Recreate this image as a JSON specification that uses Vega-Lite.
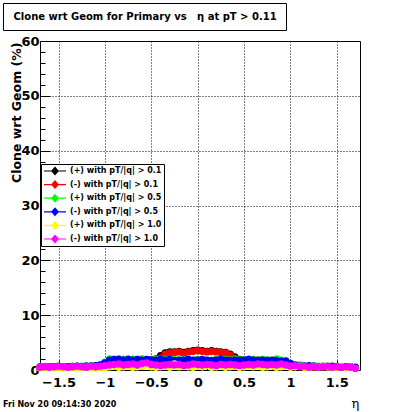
{
  "$schema": "https://vega.github.io/schema/vega-lite/v6.json",
  "width": 320,
  "height": 329,
  "autosize": {"type": "none"},
  "padding": {"left": 40, "top": 41, "right": 40, "bottom": 42},
  "background": "white",
  "title": {"text": "Fri Nov 20 09:14:30 2020", "orient": "bottom", "anchor": "start", "frame": "group", "dx": -37, "offset": -9, "baseline": "top", "font": "DejaVu Sans", "fontSize": 8, "fontWeight": "bold", "color": "black"},
  "config": {
    "view": {"stroke": "black", "strokeWidth": 1, "fill": "white"},
    "axis": {"domain": false, "tickColor": "black", "tickWidth": 1, "labelColor": "black", "titleColor": "black", "gridColor": "black", "gridDash": [1, 2], "gridWidth": 1, "labelFont": "DejaVu Sans", "labelFontWeight": "bold", "labelFontSize": 13, "labelOverlap": false, "labelFlush": false}
  },
  "data": {"values": [
    {"eta": -1.70, "s1": 0.5, "s2": 0.5, "s3": 0.6, "s4": 0.5, "s5": 0.4, "s6": 0.5},
    {"eta": -1.65, "s1": 0.5, "s2": 0.5, "s3": 0.5, "s4": 0.6, "s5": 0.5, "s6": 0.6},
    {"eta": -1.60, "s1": 0.6, "s2": 0.5, "s3": 0.6, "s4": 0.5, "s5": 0.3, "s6": 0.5},
    {"eta": -1.55, "s1": 0.5, "s2": 0.6, "s3": 0.5, "s4": 0.6, "s5": 0.4, "s6": 0.6},
    {"eta": -1.50, "s1": 0.6, "s2": 0.5, "s3": 0.7, "s4": 0.6, "s5": 0.5, "s6": 0.7},
    {"eta": -1.45, "s1": 0.5, "s2": 0.5, "s3": 0.6, "s4": 0.5, "s5": 0.3, "s6": 0.6},
    {"eta": -1.40, "s1": 0.6, "s2": 0.6, "s3": 0.6, "s4": 0.6, "s5": 0.4, "s6": 0.5},
    {"eta": -1.35, "s1": 0.6, "s2": 0.5, "s3": 0.7, "s4": 0.6, "s5": 0.5, "s6": 0.6},
    {"eta": -1.30, "s1": 0.5, "s2": 0.6, "s3": 0.6, "s4": 0.7, "s5": 0.3, "s6": 0.7},
    {"eta": -1.25, "s1": 0.6, "s2": 0.6, "s3": 0.7, "s4": 0.6, "s5": 0.4, "s6": 0.6},
    {"eta": -1.20, "s1": 0.7, "s2": 0.6, "s3": 0.7, "s4": 0.7, "s5": 0.5, "s6": 0.5},
    {"eta": -1.15, "s1": 0.6, "s2": 0.7, "s3": 0.8, "s4": 0.7, "s5": 0.4, "s6": 0.7},
    {"eta": -1.10, "s1": 0.7, "s2": 0.7, "s3": 0.8, "s4": 0.8, "s5": 0.3, "s6": 0.6},
    {"eta": -1.05, "s1": 0.8, "s2": 0.8, "s3": 0.9, "s4": 0.9, "s5": 0.5, "s6": 0.7},
    {"eta": -1.00, "s1": 1.2, "s2": 1.2, "s3": 1.4, "s4": 1.3, "s5": 0.4, "s6": 0.8},
    {"eta": -0.95, "s1": 1.8, "s2": 1.7, "s3": 2.0, "s4": 1.8, "s5": 0.6, "s6": 0.9},
    {"eta": -0.90, "s1": 1.8, "s2": 1.8, "s3": 1.9, "s4": 1.9, "s5": 0.7, "s6": 1.0},
    {"eta": -0.85, "s1": 1.9, "s2": 1.8, "s3": 2.0, "s4": 1.9, "s5": 0.5, "s6": 1.1},
    {"eta": -0.80, "s1": 1.8, "s2": 1.9, "s3": 1.9, "s4": 1.8, "s5": 0.6, "s6": 0.9},
    {"eta": -0.75, "s1": 1.8, "s2": 1.8, "s3": 2.0, "s4": 1.9, "s5": 0.7, "s6": 1.0},
    {"eta": -0.70, "s1": 1.9, "s2": 1.8, "s3": 1.9, "s4": 1.8, "s5": 0.5, "s6": 1.1},
    {"eta": -0.65, "s1": 1.8, "s2": 1.9, "s3": 1.8, "s4": 1.9, "s5": 0.6, "s6": 0.9},
    {"eta": -0.60, "s1": 1.9, "s2": 1.8, "s3": 2.0, "s4": 1.8, "s5": 0.7, "s6": 1.2},
    {"eta": -0.55, "s1": 1.8, "s2": 1.8, "s3": 1.9, "s4": 1.9, "s5": 0.9, "s6": 1.3},
    {"eta": -0.50, "s1": 1.8, "s2": 1.9, "s3": 1.8, "s4": 1.8, "s5": 0.6, "s6": 1.0},
    {"eta": -0.45, "s1": 2.0, "s2": 1.9, "s3": 1.9, "s4": 1.8, "s5": 0.5, "s6": 0.9},
    {"eta": -0.40, "s1": 2.6, "s2": 2.2, "s3": 1.8, "s4": 1.9, "s5": 0.6, "s6": 0.8},
    {"eta": -0.35, "s1": 3.1, "s2": 2.9, "s3": 1.9, "s4": 1.8, "s5": 0.7, "s6": 0.9},
    {"eta": -0.30, "s1": 3.3, "s2": 3.1, "s3": 1.8, "s4": 1.9, "s5": 0.5, "s6": 1.0},
    {"eta": -0.25, "s1": 3.3, "s2": 3.2, "s3": 1.9, "s4": 1.7, "s5": 1.1, "s6": 0.9},
    {"eta": -0.20, "s1": 3.4, "s2": 3.3, "s3": 1.8, "s4": 1.8, "s5": 0.6, "s6": 1.0},
    {"eta": -0.15, "s1": 3.2, "s2": 3.0, "s3": 1.9, "s4": 1.8, "s5": 0.7, "s6": 0.8},
    {"eta": -0.10, "s1": 3.4, "s2": 3.3, "s3": 1.7, "s4": 1.9, "s5": 0.6, "s6": 0.9},
    {"eta": -0.05, "s1": 3.5, "s2": 3.4, "s3": 1.8, "s4": 1.8, "s5": 0.5, "s6": 1.1},
    {"eta": 0.00, "s1": 3.6, "s2": 3.5, "s3": 1.9, "s4": 1.8, "s5": 0.7, "s6": 1.0},
    {"eta": 0.05, "s1": 3.5, "s2": 3.4, "s3": 1.8, "s4": 1.9, "s5": 0.6, "s6": 0.9},
    {"eta": 0.10, "s1": 3.4, "s2": 3.3, "s3": 1.7, "s4": 1.8, "s5": 0.8, "s6": 1.0},
    {"eta": 0.15, "s1": 3.5, "s2": 3.4, "s3": 1.8, "s4": 1.7, "s5": 0.5, "s6": 0.9},
    {"eta": 0.20, "s1": 3.4, "s2": 3.3, "s3": 1.9, "s4": 1.8, "s5": 0.6, "s6": 0.8},
    {"eta": 0.25, "s1": 3.3, "s2": 3.2, "s3": 1.8, "s4": 1.9, "s5": 0.7, "s6": 1.0},
    {"eta": 0.30, "s1": 3.2, "s2": 3.1, "s3": 1.9, "s4": 1.8, "s5": 0.5, "s6": 0.9},
    {"eta": 0.35, "s1": 2.9, "s2": 2.7, "s3": 1.8, "s4": 1.7, "s5": 0.6, "s6": 1.0},
    {"eta": 0.40, "s1": 2.4, "s2": 2.1, "s3": 1.9, "s4": 1.8, "s5": 0.7, "s6": 0.9},
    {"eta": 0.45, "s1": 1.9, "s2": 1.8, "s3": 1.8, "s4": 1.7, "s5": 0.5, "s6": 0.8},
    {"eta": 0.50, "s1": 1.8, "s2": 1.8, "s3": 1.9, "s4": 1.8, "s5": 0.6, "s6": 0.9},
    {"eta": 0.55, "s1": 1.9, "s2": 1.8, "s3": 1.8, "s4": 1.9, "s5": 0.8, "s6": 1.0},
    {"eta": 0.60, "s1": 1.8, "s2": 1.7, "s3": 1.9, "s4": 1.8, "s5": 0.6, "s6": 0.9},
    {"eta": 0.65, "s1": 1.8, "s2": 1.8, "s3": 1.8, "s4": 1.7, "s5": 0.7, "s6": 1.1},
    {"eta": 0.70, "s1": 1.7, "s2": 1.8, "s3": 1.9, "s4": 1.8, "s5": 0.5, "s6": 1.0},
    {"eta": 0.75, "s1": 1.8, "s2": 1.7, "s3": 1.8, "s4": 1.7, "s5": 0.6, "s6": 0.9},
    {"eta": 0.80, "s1": 1.7, "s2": 1.6, "s3": 1.7, "s4": 1.8, "s5": 0.7, "s6": 1.0},
    {"eta": 0.85, "s1": 1.8, "s2": 1.7, "s3": 2.0, "s4": 1.7, "s5": 0.5, "s6": 0.9},
    {"eta": 0.90, "s1": 1.7, "s2": 1.6, "s3": 1.8, "s4": 1.6, "s5": 0.6, "s6": 1.1},
    {"eta": 0.95, "s1": 1.5, "s2": 1.5, "s3": 1.7, "s4": 1.6, "s5": 0.7, "s6": 0.9},
    {"eta": 1.00, "s1": 1.0, "s2": 1.0, "s3": 1.1, "s4": 1.2, "s5": 0.5, "s6": 0.7},
    {"eta": 1.05, "s1": 0.8, "s2": 0.8, "s3": 0.8, "s4": 0.9, "s5": 0.6, "s6": 0.8},
    {"eta": 1.10, "s1": 0.7, "s2": 0.7, "s3": 0.9, "s4": 0.8, "s5": 0.7, "s6": 0.6},
    {"eta": 1.15, "s1": 0.7, "s2": 0.6, "s3": 0.8, "s4": 0.7, "s5": 0.5, "s6": 0.7},
    {"eta": 1.20, "s1": 0.6, "s2": 0.6, "s3": 0.7, "s4": 0.8, "s5": 0.4, "s6": 0.5},
    {"eta": 1.25, "s1": 0.6, "s2": 0.7, "s3": 0.8, "s4": 0.7, "s5": 0.6, "s6": 0.6},
    {"eta": 1.30, "s1": 0.6, "s2": 0.6, "s3": 0.7, "s4": 0.6, "s5": 0.5, "s6": 0.5},
    {"eta": 1.35, "s1": 0.5, "s2": 0.6, "s3": 0.6, "s4": 0.7, "s5": 0.7, "s6": 0.6},
    {"eta": 1.40, "s1": 0.6, "s2": 0.5, "s3": 0.7, "s4": 0.6, "s5": 0.6, "s6": 0.7},
    {"eta": 1.45, "s1": 0.5, "s2": 0.6, "s3": 0.6, "s4": 0.7, "s5": 0.4, "s6": 0.5},
    {"eta": 1.50, "s1": 0.6, "s2": 0.5, "s3": 0.5, "s4": 0.6, "s5": 0.5, "s6": 0.6},
    {"eta": 1.55, "s1": 0.5, "s2": 0.6, "s3": 0.6, "s4": 0.5, "s5": 0.6, "s6": 0.5},
    {"eta": 1.60, "s1": 0.6, "s2": 0.5, "s3": 0.5, "s4": 0.6, "s5": 0.4, "s6": 0.6},
    {"eta": 1.65, "s1": 0.5, "s2": 0.5, "s3": 0.6, "s4": 0.5, "s5": 0.5, "s6": 0.5},
    {"eta": 1.70, "s1": 0.4, "s2": 0.4, "s3": 0.3, "s4": 0.5, "s5": 0.3, "s6": 0.3}
  ]},
  "transform": [{"fold": ["s1", "s2", "s3", "s4", "s5", "s6"], "as": ["series", "pct"]}],
  "mark": {"type": "point", "filled": true, "shape": "circle", "size": 55, "opacity": 1},
  "encoding": {
    "x": {
      "field": "eta", "type": "quantitative",
      "scale": {"domain": [-1.7, 1.75], "nice": false, "zero": false},
      "axis": {
        "values": [-1.7, -1.6, -1.5, -1.4, -1.3, -1.2, -1.1, -1.0, -0.9, -0.8, -0.7, -0.6, -0.5, -0.4, -0.3, -0.2, -0.1, 0, 0.1, 0.2, 0.3, 0.4, 0.5, 0.6, 0.7, 0.8, 0.9, 1.0, 1.1, 1.2, 1.3, 1.4, 1.5, 1.6, 1.7],
        "labelExpr": "abs(datum.value*2 - round(datum.value*2)) < 0.001 ? format(datum.value, '~g') : ''",
        "tickSize": {"condition": {"test": "abs(datum.value*2 - round(datum.value*2)) < 0.001", "value": -10}, "value": -5},
        "gridOpacity": {"condition": {"test": "abs(datum.value*2 - round(datum.value*2)) < 0.001 && abs(datum.value) < 1.6", "value": 1}, "value": 0},
        "labelPadding": 16.5,
        "title": "η",
        "titleFont": "DejaVu Serif", "titleFontSize": 13, "titleFontWeight": "normal",
        "titleX": 315, "titleY": 37, "titleAlign": "center", "titleBaseline": "alphabetic", "titleAnchor": null
      }
    },
    "y": {
      "field": "pct", "type": "quantitative",
      "scale": {"domain": [0, 60], "nice": false},
      "axis": {
        "values": [0, 2, 4, 6, 8, 10, 12, 14, 16, 18, 20, 22, 24, 26, 28, 30, 32, 34, 36, 38, 40, 42, 44, 46, 48, 50, 52, 54, 56, 58, 60],
        "labelExpr": "datum.value % 10 === 0 ? format(datum.value, 'd') : ''",
        "tickSize": {"condition": {"test": "datum.value % 10 === 0", "value": -10}, "value": -5},
        "gridOpacity": {"condition": {"test": "datum.value % 10 === 0 && datum.value > 0 && datum.value < 60", "value": 1}, "value": 0},
        "labelPadding": 11,
        "title": "Clone wrt Geom (%)",
        "titleFont": "DejaVu Sans", "titleFontSize": 12.5, "titleFontWeight": "bold",
        "titleAngle": -90, "titleX": -23.5, "titleY": 1, "titleAlign": "right", "titleBaseline": "middle"
      }
    },
    "color": {
      "field": "series", "type": "nominal",
      "scale": {"domain": ["s1", "s2", "s3", "s4", "s5", "s6"], "range": ["#000000", "#ff0000", "#00ff00", "#0000ff", "#ffff00", "#ff00ff"]},
      "legend": {
        "orient": "none", "legendX": 1, "legendY": 123, "title": null, "direction": "vertical",
        "symbolType": "M-0.8,-0.12H3.6V0.12H-0.8Z M1.4,-0.9L2.2,0L1.4,0.9L0.6,0Z",
        "symbolSize": 100, "symbolStrokeWidth": 0, "symbolOffset": 0, "labelOffset": 17,
        "padding": 2, "rowPadding": 3.6,
        "strokeColor": "black", "fillColor": "white",
        "labelFont": "DejaVu Sans", "labelFontWeight": "bold", "labelFontSize": 8, "labelLimit": 0, "labelColor": "black",
        "labelExpr": "datum.label === 's1' ? '(+) with pT/|q| > 0.1' : datum.label === 's2' ? '(-) with pT/|q| > 0.1' : datum.label === 's3' ? '(+) with pT/|q| > 0.5' : datum.label === 's4' ? '(-) with pT/|q| > 0.5' : datum.label === 's5' ? '(+) with pT/|q| > 1.0' : '(-) with pT/|q| > 1.0'",
        "symbolOpacity": 1
      }
    },
    "shape": {
      "datum": "t", "type": "nominal",
      "scale": {"range": ["circle"]},
      "legend": {
        "orient": "none", "legendX": -37, "legendY": -38, "title": null,
        "labelExpr": "'Clone wrt Geom for Primary vs\u00a0\u00a0\u00a0η at pT > 0.11'",
        "symbolSize": 0, "symbolOpacity": 0, "labelOffset": -8, "padding": 8.5,
        "strokeColor": "black", "fillColor": "white",
        "labelFont": "DejaVu Sans", "labelFontWeight": "bold", "labelFontSize": 10, "labelLimit": 0, "labelColor": "black"
      }
    },
    "order": {"field": "series", "sort": "ascending"}
  }
}
